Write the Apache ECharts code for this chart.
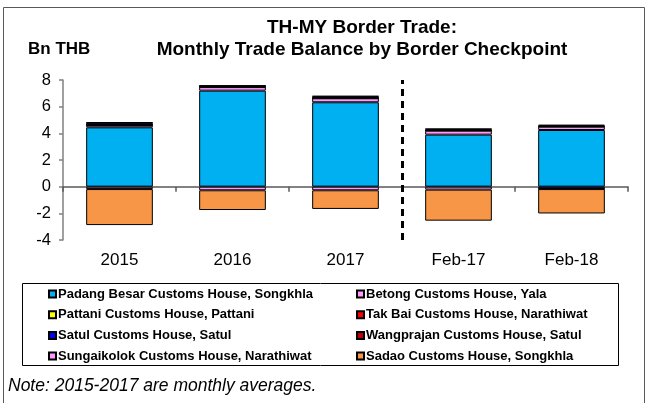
<!DOCTYPE html>
<html>
<head>
<meta charset="utf-8">
<script src="https://cdn.jsdelivr.net/npm/echarts@6/dist/echarts.min.js"></script>
<style>
  html, body { margin: 0; padding: 0; background: #fff; }
  #chart { width: 648px; height: 403px; }
</style>
</head>
<body>
<div id="chart"></div>
<script>
// categories
const categories = ['2015', '2016', '2017', 'Feb-17', 'Feb-18']
// 数据 (Bn THB)
const padangBesar = [4.45, 7.2, 6.33, 3.9, 4.25]
const betong = [0.17, 0.27, 0.3, 0.3, 0.25]
const pattani = [0.01, 0.01, 0.01, 0.01, 0.01]
const takBai = [0.02, 0.02, 0.02, 0.02, 0.06]
const satul = [0.14, 0.06, 0.1, 0.08, -0.17]
const wangprajan = [0.04, 0.02, 0.04, 0.03, 0.07]
const sungaikolok = [-0.18, -0.27, -0.27, -0.22, -0.01]
const sadao = [-2.7, -1.48, -1.4, -2.33, -1.83]
const yTicks = [-4, -2, 0, 2, 4, 6, 8]
// dashed divider sits between 2017 and Feb-17
const dividerAt = 3

const fontFamily = 'Arial, "Liberation Sans", sans-serif'

function barSeries(name, data, color) {
  return {
    name: name,
    type: 'bar',
    stack: 'total',
    xAxisIndex: 0,
    barWidth: '59%',
    itemStyle: {
      color: color,
      borderColor: '#000',
      borderWidth: 1
    },
    data: data
  }
}

const legendText = { fontSize: 13, fontWeight: 'bold', color: '#000', lineHeight: 14, fontFamily: fontFamily, padding: [0, 0, 0, -3] }

const chart = echarts.init(document.getElementById('chart'))
chart.setOption({
  backgroundColor: '#fff',
  animation: false,
  textStyle: { fontFamily: fontFamily },
  title: [
    {
      text: 'TH-MY Border Trade:\nMonthly Trade Balance by Border Checkpoint',
      left: 357,
      top: 12,
      textAlign: 'center',
      textStyle: { fontSize: 19, fontWeight: 'bold', color: '#000', lineHeight: 22, fontFamily: fontFamily }
    },
    {
      text: 'Bn THB',
      left: 23,
      top: 36,
      textStyle: { fontSize: 17, fontWeight: 'bold', color: '#000', fontFamily: fontFamily }
    },
    {
      text: 'Note: 2015-2017 are monthly averages.',
      left: 3,
      top: 372,
      textStyle: { fontSize: 17.5, fontWeight: 'normal', fontStyle: 'italic', color: '#000', fontFamily: fontFamily }
    }
  ],
  graphic: [
    {
      type: 'rect',
      silent: true,
      z: -10,
      shape: { x: 3.5, y: 7.5, width: 641, height: 400 },
      style: { fill: null, stroke: '#595959', lineWidth: 1 }
    },
    {
      type: 'rect',
      silent: true,
      shape: { x: 22.5, y: 283.5, width: 596, height: 82 },
      style: { fill: null, stroke: '#000', lineWidth: 1 }
    }
  ],
  legend: [
    {
      orient: 'vertical',
      left: 43,
      top: 282,
      itemWidth: 7,
      itemHeight: 7,
      itemGap: 6.7,
      icon: 'rect',
      textStyle: legendText,
      data: ['Padang Besar Customs House, Songkhla', 'Pattani Customs House, Pattani', 'Satul Customs House, Satul', 'Sungaikolok Customs House, Narathiwat']
    },
    {
      orient: 'vertical',
      left: 351,
      top: 282,
      itemWidth: 7,
      itemHeight: 7,
      itemGap: 6.7,
      icon: 'rect',
      textStyle: legendText,
      data: ['Betong Customs House, Yala', 'Tak Bai Customs House, Narathiwat', 'Wangprajan Customs House, Satul', 'Sadao Customs House, Songkhla']
    }
  ],
  grid: {
    left: 63,
    right: 20,
    top: 80,
    bottom: 163
  },
  xAxis: [
    {
      type: 'category',
      data: categories,
      position: 'bottom',
      axisLine: { onZero: true, lineStyle: { color: '#595959', width: 1.5 } },
      axisTick: { show: true, length: 5, lineStyle: { color: '#595959', width: 1.5 } },
      axisLabel: { show: false },
      splitLine: { show: false }
    },
    {
      type: 'category',
      data: categories,
      position: 'bottom',
      axisLine: { show: false },
      axisTick: { show: false },
      axisLabel: { show: true, margin: 12, fontSize: 17, color: '#000', fontFamily: fontFamily },
      splitLine: { show: false }
    },
    {
      type: 'value',
      min: 0,
      max: categories.length,
      show: false
    }
  ],
  yAxis: {
    type: 'value',
    min: yTicks[0],
    max: yTicks[yTicks.length - 1],
    interval: 2,
    axisLine: { show: true, lineStyle: { color: '#808080', width: 1.5 } },
    axisTick: { show: true, length: 4, lineStyle: { color: '#808080', width: 1.5 } },
    axisLabel: { margin: 12, fontSize: 16.5, color: '#000', fontFamily: fontFamily },
    splitLine: { show: false }
  },
  series: [
    barSeries('Padang Besar Customs House, Songkhla', padangBesar, '#00B0F0'),
    barSeries('Betong Customs House, Yala', betong, '#FF99FF'),
    barSeries('Pattani Customs House, Pattani', pattani, '#FFFF00'),
    barSeries('Tak Bai Customs House, Narathiwat', takBai, '#FF0000'),
    barSeries('Satul Customs House, Satul', satul, '#0000FF'),
    barSeries('Wangprajan Customs House, Satul', wangprajan, '#C00000'),
    barSeries('Sungaikolok Customs House, Narathiwat', sungaikolok, '#FF99FF'),
    barSeries('Sadao Customs House, Songkhla', sadao, '#F79646'),
    {
      name: 'divider',
      type: 'line',
      xAxisIndex: 2,
      data: [],
      markLine: {
        silent: true,
        symbol: 'none',
        label: { show: false },
        lineStyle: { color: '#000', width: 3, type: [7, 5] },
        data: [{ xAxis: dividerAt }]
      }
    }
  ]
})
</script>
</body>
</html>
